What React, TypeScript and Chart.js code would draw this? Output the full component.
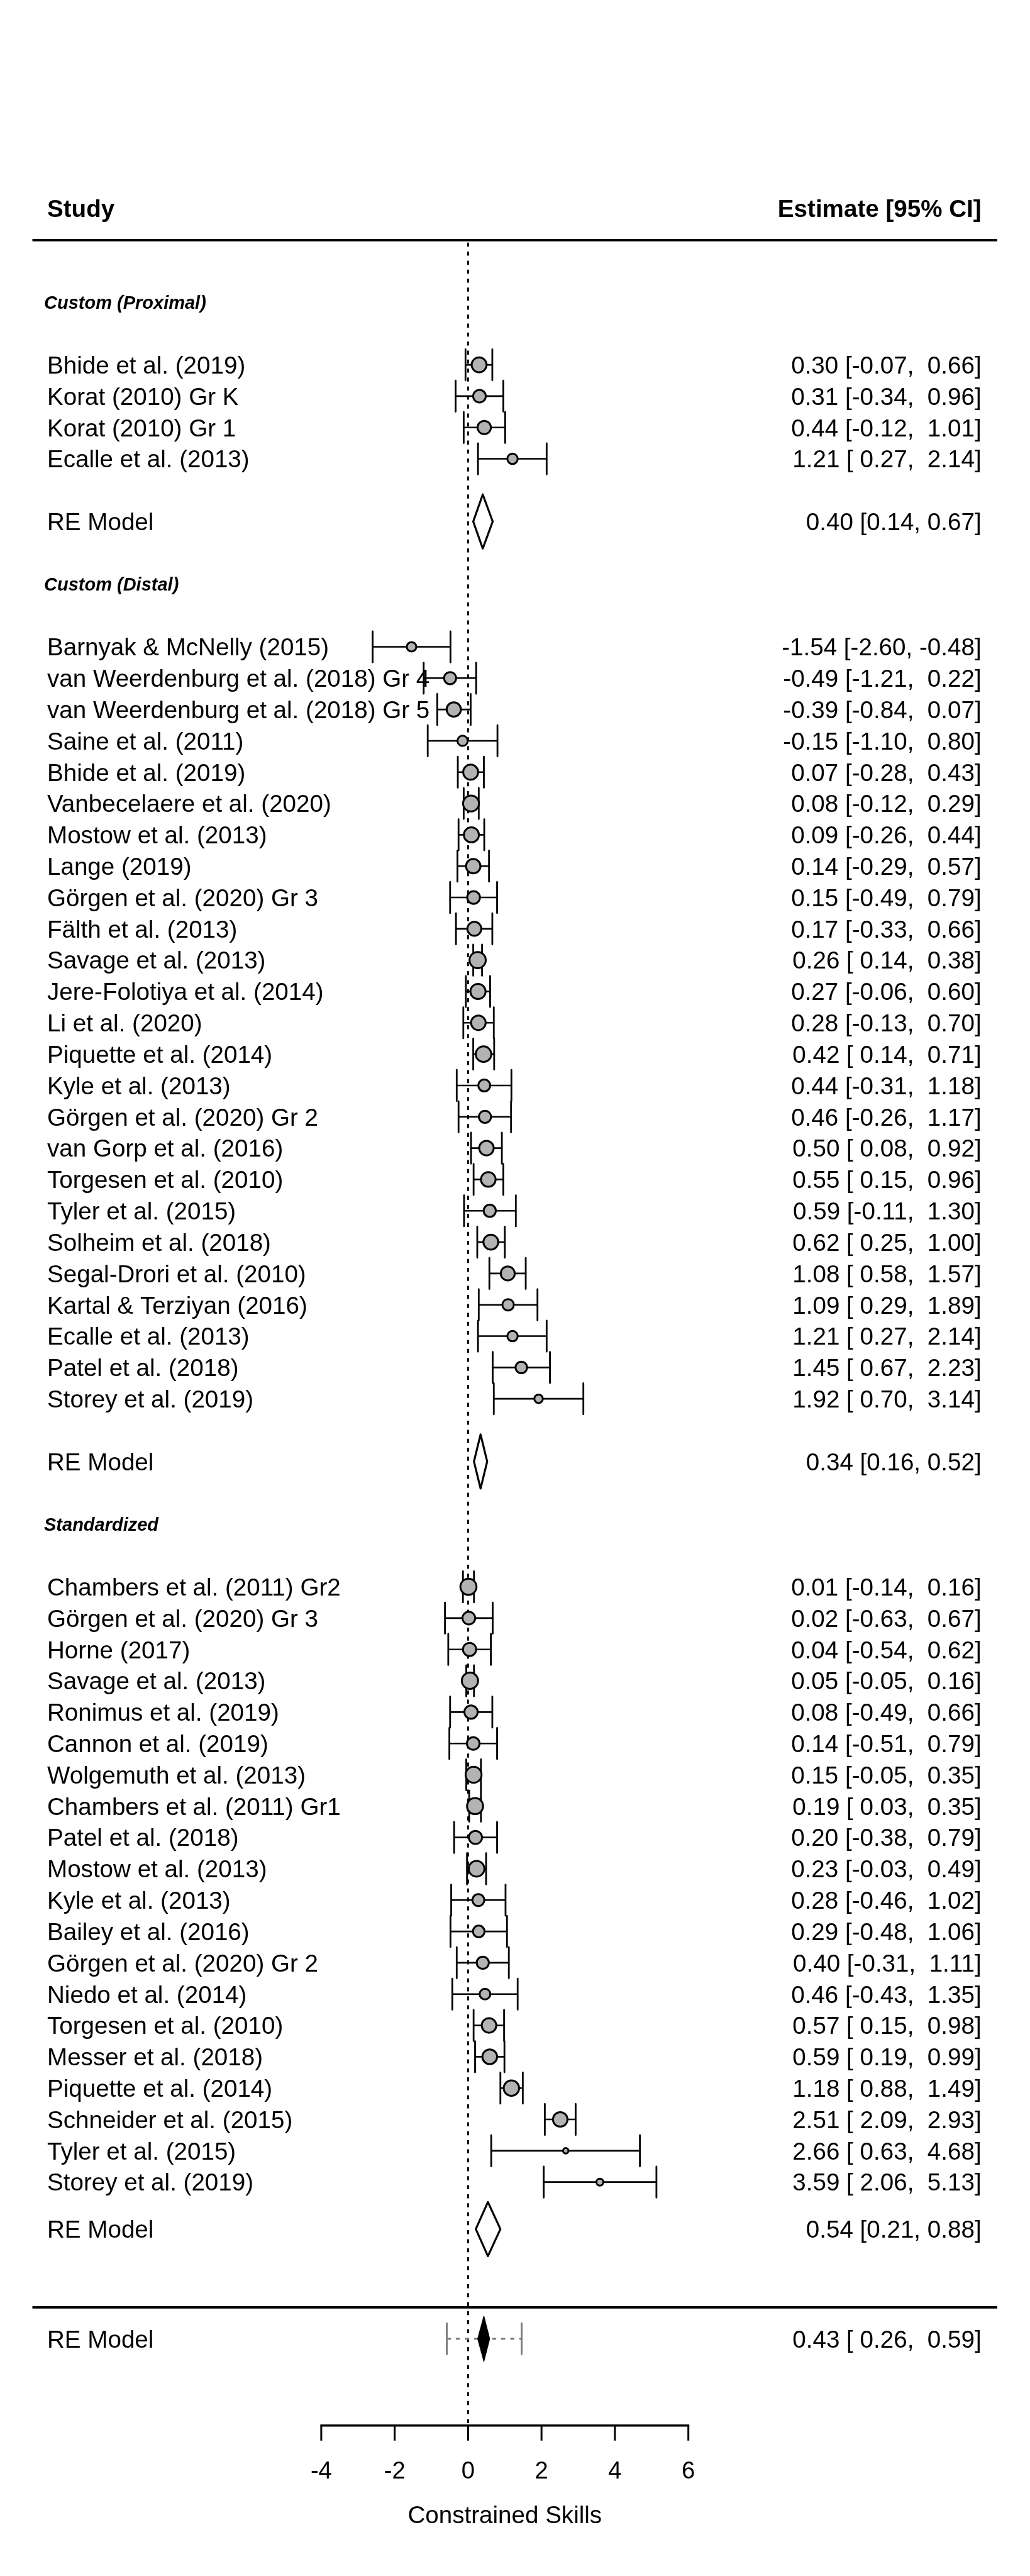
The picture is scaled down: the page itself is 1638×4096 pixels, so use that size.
import React, { useEffect, useRef } from "react";
import { Chart, registerables } from "chart.js";

Chart.register(...registerables);

// ---------------- data ----------------
const headerLeft = "Study";
const headerRight = "Estimate [95% CI]";
const sectionTitles = ["Custom (Proximal)", "Custom (Distal)", "Standardized"];
const modelLabel = "RE Model";
const axisTitle = "Constrained Skills";
const xTickValues = [-4, -2, 0, 2, 4, 6];

const proximalStudies = [
  "Bhide et al. (2019)",
  "Korat (2010) Gr K",
  "Korat (2010) Gr 1",
  "Ecalle et al. (2013)",
];
const proximalEst = [0.3, 0.31, 0.44, 1.21];
const proximalLower = [-0.07, -0.34, -0.12, 0.27];
const proximalUpper = [0.66, 0.96, 1.01, 2.14];
const proximalModel = [0.4, 0.14, 0.67];

const distalStudies = [
  "Barnyak & McNelly (2015)",
  "van Weerdenburg et al. (2018) Gr 4",
  "van Weerdenburg et al. (2018) Gr 5",
  "Saine et al. (2011)",
  "Bhide et al. (2019)",
  "Vanbecelaere et al. (2020)",
  "Mostow et al. (2013)",
  "Lange (2019)",
  "Görgen et al. (2020) Gr 3",
  "Fälth et al. (2013)",
  "Savage et al. (2013)",
  "Jere-Folotiya et al. (2014)",
  "Li et al. (2020)",
  "Piquette et al. (2014)",
  "Kyle et al. (2013)",
  "Görgen et al. (2020) Gr 2",
  "van Gorp et al. (2016)",
  "Torgesen et al. (2010)",
  "Tyler et al. (2015)",
  "Solheim et al. (2018)",
  "Segal-Drori et al. (2010)",
  "Kartal & Terziyan (2016)",
  "Ecalle et al. (2013)",
  "Patel et al. (2018)",
  "Storey et al. (2019)",
];
const distalEst = [
  -1.54, -0.49, -0.39, -0.15, 0.07, 0.08, 0.09, 0.14, 0.15, 0.17, 0.26, 0.27,
  0.28, 0.42, 0.44, 0.46, 0.5, 0.55, 0.59, 0.62, 1.08, 1.09, 1.21, 1.45, 1.92,
];
const distalLower = [
  -2.6, -1.21, -0.84, -1.1, -0.28, -0.12, -0.26, -0.29, -0.49, -0.33, 0.14,
  -0.06, -0.13, 0.14, -0.31, -0.26, 0.08, 0.15, -0.11, 0.25, 0.58, 0.29, 0.27,
  0.67, 0.7,
];
const distalUpper = [
  -0.48, 0.22, 0.07, 0.8, 0.43, 0.29, 0.44, 0.57, 0.79, 0.66, 0.38, 0.6, 0.7,
  0.71, 1.18, 1.17, 0.92, 0.96, 1.3, 1.0, 1.57, 1.89, 2.14, 2.23, 3.14,
];
const distalModel = [0.34, 0.16, 0.52];

const standardizedStudies = [
  "Chambers et al. (2011) Gr2",
  "Görgen et al. (2020) Gr 3",
  "Horne (2017)",
  "Savage et al. (2013)",
  "Ronimus et al. (2019)",
  "Cannon et al. (2019)",
  "Wolgemuth et al. (2013)",
  "Chambers et al. (2011) Gr1",
  "Patel et al. (2018)",
  "Mostow et al. (2013)",
  "Kyle et al. (2013)",
  "Bailey et al. (2016)",
  "Görgen et al. (2020) Gr 2",
  "Niedo et al. (2014)",
  "Torgesen et al. (2010)",
  "Messer et al. (2018)",
  "Piquette et al. (2014)",
  "Schneider et al. (2015)",
  "Tyler et al. (2015)",
  "Storey et al. (2019)",
];
const standardizedEst = [
  0.01, 0.02, 0.04, 0.05, 0.08, 0.14, 0.15, 0.19, 0.2, 0.23, 0.28, 0.29, 0.4,
  0.46, 0.57, 0.59, 1.18, 2.51, 2.66, 3.59,
];
const standardizedLower = [
  -0.14, -0.63, -0.54, -0.05, -0.49, -0.51, -0.05, 0.03, -0.38, -0.03, -0.46,
  -0.48, -0.31, -0.43, 0.15, 0.19, 0.88, 2.09, 0.63, 2.06,
];
const standardizedUpper = [
  0.16, 0.67, 0.62, 0.16, 0.66, 0.79, 0.35, 0.35, 0.79, 0.49, 1.02, 1.06, 1.11,
  1.35, 0.98, 0.99, 1.49, 2.93, 4.68, 5.13,
];
const standardizedModel = [0.54, 0.21, 0.88];

const overallModel = [0.43, 0.26, 0.59];
const overallPrediction = [-0.58, 1.46];

// ---------------- layout / style ----------------
const W = 1638;
const H = 4096;
const X_ZERO_PX = 744.4;
const X_UNIT_PX = 58.38;
const ROW0_PX = 580.1;
const ROW_PX = 49.82;

const X_MIN = -X_ZERO_PX / X_UNIT_PX;
const X_MAX = (W - X_ZERO_PX) / X_UNIT_PX;
const Y_MIN = -ROW0_PX / ROW_PX;
const Y_MAX = (H - ROW0_PX) / ROW_PX;

const X_TEXT_LEFT = (75 - X_ZERO_PX) / X_UNIT_PX;
const X_HEADING_LEFT = (70 - X_ZERO_PX) / X_UNIT_PX;
const X_TEXT_RIGHT = (1560.6 - X_ZERO_PX) / X_UNIT_PX;
const X_RULE_LEFT = (51.5 - X_ZERO_PX) / X_UNIT_PX;
const X_RULE_RIGHT = (1586 - X_ZERO_PX) / X_UNIT_PX;

const HEADER_ROW = -5;
const TOP_RULE_ROW = -3.98;
const BOTTOM_RULE_ROW = 62;
const OVERALL_ROW = 63;
const AXIS_ROW = 65.77;

const sectionLayout = [
  { headingRow: -2, firstRow: 0, modelGap: 2 },
  { headingRow: 7, firstRow: 9, modelGap: 2 },
  { headingRow: 37, firstRow: 39, modelGap: 1.5 },
];

const FONT = '"Liberation Sans", Arial, Helvetica, sans-serif';
const FS = 38.6;
const HEAD_FS = 29;
const POINT_FILL = "#B3B3B3";
const REF_GRAY = "#7a7a7a";

const sections = [
  { title: sectionTitles[0], studies: proximalStudies, est: proximalEst, lo: proximalLower, hi: proximalUpper, model: proximalModel },
  { title: sectionTitles[1], studies: distalStudies, est: distalEst, lo: distalLower, hi: distalUpper, model: distalModel },
  { title: sectionTitles[2], studies: standardizedStudies, est: standardizedEst, lo: standardizedLower, hi: standardizedUpper, model: standardizedModel },
];

type Row = { label: string; est: number; lo: number; hi: number; row: number };

const studyRows: Row[] = [];
const modelRows: { row: number; model: number[] }[] = [];
const headingRows: { row: number; title: string }[] = [];
sections.forEach((s, i) => {
  const L = sectionLayout[i];
  headingRows.push({ row: L.headingRow, title: s.title });
  s.studies.forEach((label, j) => {
    studyRows.push({ label, est: s.est[j], lo: s.lo[j], hi: s.hi[j], row: L.firstRow + j });
  });
  modelRows.push({ row: L.firstRow + s.studies.length - 1 + L.modelGap, model: s.model });
});

// point size from weights (as the meta-analysis software does)
const TAU2 = 0.3;
const weights = studyRows.map((r) => {
  const se = (r.hi - r.lo) / 3.92;
  return 1 / (se * se + TAU2);
});
const wMin = Math.min(...weights);
const wMax = Math.max(...weights);
const radii = weights.map((w) => 8.62 * (0.5 + (w - wMin) / (wMax - wMin)));

const pad5 = (v: number) => v.toFixed(2).padStart(5, " ");
const fmtPadded = (e: number, l: number, h: number) => `${e.toFixed(2)} [${pad5(l)}, ${pad5(h)}]`;
const fmtPlain = (e: number, l: number, h: number) => `${e.toFixed(2)} [${l.toFixed(2)}, ${h.toFixed(2)}]`;

function drawText(ctx: CanvasRenderingContext2D, s: string, x: number, y: number, font: string, size: number, align: CanvasTextAlign) {
  ctx.font = font;
  ctx.textAlign = align;
  ctx.textBaseline = "alphabetic";
  ctx.fillStyle = "#000";
  ctx.fillText(s, x, y + 0.358 * size);
}

const forestPlugin = {
  id: "forestPlugin",
  beforeDraw(chart: any) {
    const ctx = chart.ctx as CanvasRenderingContext2D;
    ctx.save();
    ctx.fillStyle = "#fff";
    ctx.fillRect(0, 0, chart.width, chart.height);
    ctx.restore();
  },
  beforeDatasetsDraw(chart: any) {
    const ctx = chart.ctx as CanvasRenderingContext2D;
    const xs = chart.scales.x;
    const ys = chart.scales.y;
    const px = (v: number) => xs.getPixelForValue(v);
    const py = (v: number) => ys.getPixelForValue(v);

    // reference line at 0
    ctx.save();
    ctx.strokeStyle = "#000";
    ctx.lineWidth = 2.8;
    ctx.setLineDash([6.5, 7.8]);
    ctx.lineCap = "butt";
    ctx.beginPath();
    ctx.moveTo(px(0), py(TOP_RULE_ROW + 0.08));
    ctx.lineTo(px(0), py(AXIS_ROW));
    ctx.stroke();
    ctx.restore();

    // confidence intervals
    ctx.save();
    ctx.strokeStyle = "#000";
    studyRows.forEach((r) => {
      const y = py(r.row);
      ctx.lineWidth = 2.6;
      ctx.lineCap = "butt";
      ctx.beginPath();
      ctx.moveTo(px(r.lo), y);
      ctx.lineTo(px(r.hi), y);
      ctx.stroke();
      ctx.lineCap = "round";
      ctx.lineWidth = 2.8;
      ctx.beginPath();
      ctx.moveTo(px(r.lo), y - 24.7);
      ctx.lineTo(px(r.lo), y + 24.7);
      ctx.moveTo(px(r.hi), y - 24.7);
      ctx.lineTo(px(r.hi), y + 24.7);
      ctx.stroke();
    });
    ctx.restore();

    // prediction interval of overall model
    ctx.save();
    const yo = py(OVERALL_ROW);
    ctx.strokeStyle = REF_GRAY;
    ctx.lineWidth = 2.8;
    ctx.setLineDash([6.5, 7.9]);
    ctx.lineCap = "butt";
    ctx.beginPath();
    ctx.moveTo(px(overallPrediction[0]), yo);
    ctx.lineTo(px(overallPrediction[1]), yo);
    ctx.stroke();
    ctx.setLineDash([]);
    ctx.lineCap = "round";
    ctx.beginPath();
    ctx.moveTo(px(overallPrediction[0]), yo - 24.7);
    ctx.lineTo(px(overallPrediction[0]), yo + 24.7);
    ctx.moveTo(px(overallPrediction[1]), yo - 24.7);
    ctx.lineTo(px(overallPrediction[1]), yo + 24.7);
    ctx.stroke();
    ctx.restore();
  },
  afterDatasetsDraw(chart: any) {
    const ctx = chart.ctx as CanvasRenderingContext2D;
    const xs = chart.scales.x;
    const ys = chart.scales.y;
    const px = (v: number) => xs.getPixelForValue(v);
    const py = (v: number) => ys.getPixelForValue(v);

    const diamond = (m: number[], row: number, half: number, filled: boolean) => {
      const y = py(row);
      ctx.beginPath();
      ctx.moveTo(px(m[1]), y);
      ctx.lineTo(px(m[0]), y - half);
      ctx.lineTo(px(m[2]), y);
      ctx.lineTo(px(m[0]), y + half);
      ctx.closePath();
      if (filled) {
        ctx.fillStyle = "#000";
        ctx.fill();
        ctx.lineWidth = 1;
      } else {
        ctx.fillStyle = "#fff";
        ctx.fill();
        ctx.lineWidth = 3.2;
      }
      ctx.strokeStyle = "#000";
      ctx.lineJoin = "round";
      ctx.stroke();
    };

    ctx.save();
    modelRows.forEach((m) => diamond(m.model, m.row, 43, false));
    diamond(overallModel, OVERALL_ROW, 36.5, true);

    // rules
    ctx.strokeStyle = "#000";
    ctx.lineWidth = 3.7;
    ctx.lineCap = "butt";
    ctx.beginPath();
    ctx.moveTo(px(X_RULE_LEFT), py(TOP_RULE_ROW));
    ctx.lineTo(px(X_RULE_RIGHT), py(TOP_RULE_ROW));
    ctx.moveTo(px(X_RULE_LEFT), py(BOTTOM_RULE_ROW));
    ctx.lineTo(px(X_RULE_RIGHT), py(BOTTOM_RULE_ROW));
    ctx.stroke();

    // x axis
    const ya = py(AXIS_ROW);
    ctx.lineWidth = 3.4;
    ctx.beginPath();
    ctx.moveTo(px(xTickValues[0]) - 1.5, ya);
    ctx.lineTo(px(xTickValues[xTickValues.length - 1]) + 1.5, ya);
    ctx.stroke();
    ctx.lineWidth = 3.0;
    ctx.beginPath();
    xTickValues.forEach((t) => {
      ctx.moveTo(px(t), ya);
      ctx.lineTo(px(t), ya + 24);
    });
    ctx.stroke();
    xTickValues.forEach((t) => {
      drawText(ctx, String(t), px(t), ya + 70.5, `${38.2}px ${FONT}`, 38.2, "center");
    });
    const mid = (xTickValues[0] + xTickValues[xTickValues.length - 1]) / 2;
    drawText(ctx, axisTitle, px(mid), ya + 141, `${38.6}px ${FONT}`, 38.6, "center");

    // header
    const xl = px(X_TEXT_LEFT);
    const xr = px(X_TEXT_RIGHT);
    drawText(ctx, headerLeft, xl, py(HEADER_ROW), `bold ${FS}px ${FONT}`, FS, "left");
    drawText(ctx, headerRight, xr, py(HEADER_ROW), `bold ${FS}px ${FONT}`, FS, "right");

    // section headings
    headingRows.forEach((h) => {
      drawText(ctx, h.title, px(X_HEADING_LEFT), py(h.row), `italic bold ${HEAD_FS}px ${FONT}`, HEAD_FS, "left");
    });

    // study rows
    studyRows.forEach((r) => {
      const y = py(r.row);
      drawText(ctx, r.label, xl, y, `${FS}px ${FONT}`, FS, "left");
      drawText(ctx, fmtPadded(r.est, r.lo, r.hi), xr, y, `${FS}px ${FONT}`, FS, "right");
    });

    // model rows
    modelRows.forEach((m) => {
      const y = py(m.row);
      drawText(ctx, modelLabel, xl, y, `${FS}px ${FONT}`, FS, "left");
      drawText(ctx, fmtPlain(m.model[0], m.model[1], m.model[2]), xr, y, `${FS}px ${FONT}`, FS, "right");
    });
    const yo = py(OVERALL_ROW);
    drawText(ctx, modelLabel, xl, yo, `${FS}px ${FONT}`, FS, "left");
    drawText(ctx, fmtPadded(overallModel[0], overallModel[1], overallModel[2]), xr, yo, `${FS}px ${FONT}`, FS, "right");
    ctx.restore();
  },
};

export default function App() {
  const canvasRef = useRef<HTMLCanvasElement | null>(null);

  useEffect(() => {
    if (!canvasRef.current) return;
    const chart = new Chart(canvasRef.current, {
      type: "scatter",
      data: {
        datasets: [
          {
            data: studyRows.map((r) => ({ x: r.est, y: r.row })),
            pointRadius: radii,
            pointHoverRadius: radii,
            pointBackgroundColor: POINT_FILL,
            pointBorderColor: "#000",
            pointBorderWidth: 3,
            showLine: false,
            clip: false as any,
          },
        ],
      },
      options: {
        responsive: false,
        animation: false,
        devicePixelRatio: 1,
        events: [],
        layout: { padding: 0, autoPadding: false },
        plugins: { legend: { display: false }, tooltip: { enabled: false } },
        scales: {
          x: { type: "linear", min: X_MIN, max: X_MAX, display: false },
          y: { type: "linear", min: Y_MIN, max: Y_MAX, reverse: true, display: false },
        },
      },
      plugins: [forestPlugin],
    });
    return () => chart.destroy();
  }, []);

  return (
    <div style={{ position: "absolute", left: 0, top: 0, width: W, height: H, background: "#fff" }}>
      <canvas ref={canvasRef} width={W} height={H} style={{ display: "block", width: W, height: H }} />
    </div>
  );
}
